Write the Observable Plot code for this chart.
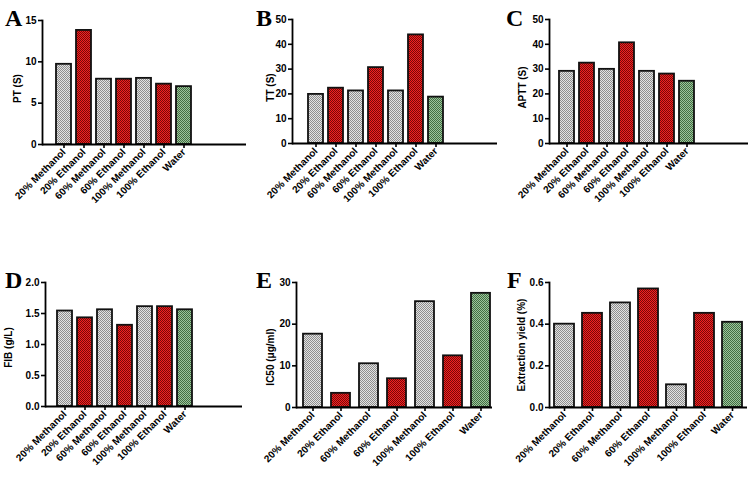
<!DOCTYPE html>
<html>
<head>
<meta charset="utf-8">
<script src="https://cdn.jsdelivr.net/npm/d3@7"></script>
<script src="https://cdn.jsdelivr.net/npm/@observablehq/plot@0.6"></script>
<style>
  html, body { margin: 0; padding: 0; background: #fff; }
  #chart { position: relative; width: 756px; height: 492px; background: #fff; overflow: hidden; }
  .panel { position: absolute; }
  .letter { position: absolute; font-family: "Liberation Serif", "Times New Roman", serif; font-weight: bold; font-size: 24px; line-height: 1; color: #000; }
</style>
</head>
<body>
<svg width="0" height="0" style="position:absolute">
  <defs>
    <pattern id="patGray" width="2" height="2" patternUnits="userSpaceOnUse">
      <rect width="2" height="2" fill="#e2e2e2"/>
      <rect width="1" height="1" fill="#8e8e8e"/>
      <rect x="1" y="1" width="1" height="1" fill="#8e8e8e"/>
    </pattern>
    <pattern id="patRed" width="2" height="2" patternUnits="userSpaceOnUse">
      <rect width="2" height="2" fill="#f22222"/>
      <rect width="1" height="1" fill="#7a0808"/>
      <rect x="1" y="1" width="1" height="1" fill="#7a0808"/>
    </pattern>
    <pattern id="patGreen" width="2" height="2" patternUnits="userSpaceOnUse">
      <rect width="2" height="2" fill="#9cc49c"/>
      <rect width="1" height="1" fill="#426e42"/>
      <rect x="1" y="1" width="1" height="1" fill="#426e42"/>
    </pattern>
  </defs>
</svg>
<div id="chart"></div>
<script>
// ---- data ----
const categories = ["20% Methanol", "20% Ethanol", "60% Methanol", "60% Ethanol", "100% Methanol", "100% Ethanol", "Water"];
const solvents = ["methanol", "ethanol", "methanol", "ethanol", "methanol", "ethanol", "water"];

const ptValues = [9.7, 13.8, 7.9, 7.9, 8.0, 7.3, 7.0];
const ttValues = [19.8, 22.3, 21.2, 30.6, 21.2, 43.8, 18.7];
const apttValues = [29.1, 32.4, 29.9, 40.6, 29.1, 28.0, 25.1];
const fibValues = [1.54, 1.43, 1.56, 1.31, 1.61, 1.61, 1.56];
const ic50Values = [17.6, 3.4, 10.5, 6.9, 25.4, 12.4, 27.4];
const yieldValues = [0.40, 0.452, 0.502, 0.569, 0.109, 0.452, 0.409];

const ptTicks = [0, 5, 10, 15];
const ttTicks = [0, 10, 20, 30, 40, 50];
const apttTicks = [0, 10, 20, 30, 40, 50];
const fibTicks = [0, 0.5, 1.0, 1.5, 2.0];
const ic50Ticks = [0, 10, 20, 30];
const yieldTicks = [0, 0.2, 0.4, 0.6];

const panelLetters = ["A", "B", "C", "D", "E", "F"];
const yLabels = ["PT (S)", "TT (S)", "APTT (S)", "FIB (g/L)", "IC50 (μg/ml)", "Extraction yield (%)"];

// ---- layout ----
const patternFor = {methanol: "url(#patGray)", ethanol: "url(#patRed)", water: "url(#patGreen)"};

const panels = [
  {values: ptValues, ticks: ptTicks, fmt: d3.format("d"),
   left: 0, top: 0, w: 250, h: 245, mL: 42, mR: 4, mT: 20, mB: 101, c0: 61.2, c6: 186.2, pi: 0.25,
   lab: {dx: -25, dy: 6}, letter: {left: 5, top: 6}},
  {values: ttValues, ticks: ttTicks, fmt: d3.format("d"),
   left: 250, top: 0, w: 250, h: 245, mL: 42, mR: 3, mT: 19, mB: 102, c0: 62.5, c6: 187.5, pi: 0.27,
   lab: {dx: -22, dy: 6}, letter: {left: 256, top: 6}},
  {values: apttValues, ticks: apttTicks, fmt: d3.format("d"),
   left: 500, top: 0, w: 256, h: 245, mL: 49, mR: 8, mT: 19, mB: 102, c0: 65.2, c6: 187, pi: 0.25,
   lab: {dx: -27, dy: 6}, letter: {left: 506, top: 6}},
  {values: fibValues, ticks: fibTicks, fmt: d3.format(".1f"),
   left: 0, top: 250, w: 250, h: 242, mL: 45, mR: 8, mT: 32, mB: 86, c0: 62.2, c6: 186.7, pi: 0.26,
   lab: {dx: -37, dy: 3}, letter: {left: 5, top: 268}},
  {values: ic50Values, ticks: ic50Ticks, fmt: d3.format("d"),
   left: 250, top: 250, w: 250, h: 242, mL: 46, mR: 8, mT: 32, mB: 85, c0: 60.3, c6: 231.8, pi: 0.33,
   lab: {dx: -26, dy: 12}, letter: {left: 256, top: 268}},
  {values: yieldValues, ticks: yieldTicks, fmt: d3.format(".1f"),
   left: 500, top: 250, w: 256, h: 242, mL: 49, mR: 9, mT: 32, mB: 85, c0: 62.7, c6: 232.7, pi: 0.29,
   lab: {dx: -28, dy: 0}, letter: {left: 507, top: 268}}
];

const chart = document.getElementById("chart");

panels.forEach((p, i) => {
  const data = categories.map((c, j) => ({cat: c, value: p.values[j], fill: patternFor[solvents[j]]}));
  const step = (p.c6 - p.c0) / 6;
  const plot = Plot.plot({
    width: p.w,
    height: p.h,
    marginLeft: p.mL,
    marginRight: p.mR,
    marginTop: p.mT,
    marginBottom: p.mB,
    style: {fontFamily: "'Liberation Sans', Arial, sans-serif", fontSize: "10px", color: "#000", background: "transparent", overflow: "visible"},
    x: {domain: categories, range: [p.c0 - step / 2, p.c6 + step / 2], paddingInner: p.pi, paddingOuter: p.pi / 2},
    y: {domain: [0, d3.max(p.ticks)]},
    color: {type: "identity"},
    marks: [
      Plot.barY(data, {x: "cat", y: "value", fill: "fill", stroke: "#111", strokeWidth: 1.8}),
      Plot.ruleY([0], {stroke: "#000", strokeWidth: 1.8}),
      Plot.frame({anchor: "left", stroke: "#000", strokeWidth: 1.8}),
      Plot.axisY({ticks: p.ticks, tickFormat: p.fmt, tickSize: 4, tickPadding: 2, label: null,
                  stroke: "#000", strokeWidth: 1.6, fontWeight: "bold", fontSize: 10}),
      Plot.axisX({tickSize: 4, tickRotate: -45, tickPadding: 2, label: null,
                  stroke: "#000", strokeWidth: 1.6, fontWeight: "bold", fontSize: 10}),
      Plot.text([yLabels[i]], {frameAnchor: "left", dx: p.lab.dx, dy: p.lab.dy, rotate: -90,
                  fontWeight: "bold", fontSize: 10, fill: "#000", textAnchor: "middle"})
    ]
  });
  const div = document.createElement("div");
  div.className = "panel";
  div.style.left = p.left + "px";
  div.style.top = p.top + "px";
  div.appendChild(plot);
  chart.appendChild(div);

  const letter = document.createElement("div");
  letter.className = "letter";
  letter.style.left = p.letter.left + "px";
  letter.style.top = p.letter.top + "px";
  letter.textContent = panelLetters[i];
  chart.appendChild(letter);
});
</script>
</body>
</html>
